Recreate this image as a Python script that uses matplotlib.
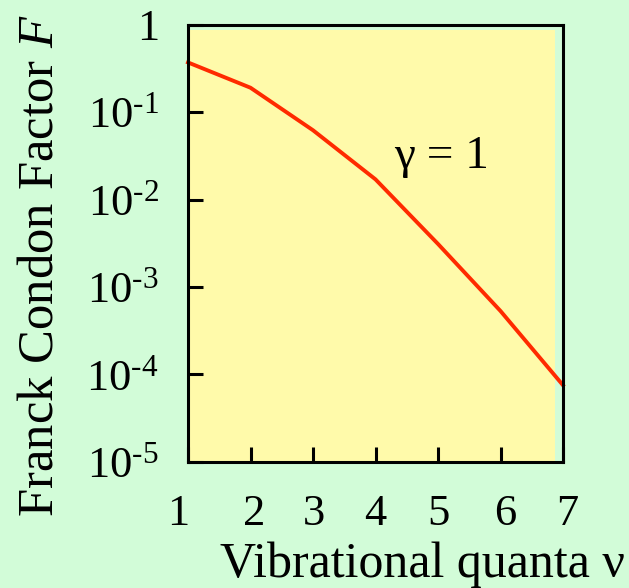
import matplotlib
matplotlib.use("Agg")
import matplotlib.pyplot as plt
from matplotlib.patches import Rectangle
from matplotlib.transforms import ScaledTranslation

# data
quanta = [1, 2, 3, 4, 5, 6, 7]
franck_condon = [0.37, 0.19, 0.062, 0.017, 0.0031, 0.00053, 0.000075]
xtick_labels = ["1", "2", "3", "4", "5", "6", "7"]
ytick_values = [1e-5, 1e-4, 1e-3, 1e-2, 1e-1, 1]
ytick_labels = ["10$^{\\text{-}5}$", "10$^{\\text{-}4}$", "10$^{\\text{-}3}$",
                "10$^{\\text{-}2}$", "10$^{\\text{-}1}$", "1"]
annotation = "γ = 1"

plt.rcParams['font.family'] = ['Liberation Serif', 'DejaVu Serif']
plt.rcParams['mathtext.fontset'] = 'custom'
plt.rcParams['mathtext.rm'] = 'Liberation Serif'
plt.rcParams['mathtext.it'] = 'Liberation Serif:italic'

BG = '#d2fcd8'
YEL = '#fffaaa'
RED = '#ff2a00'
FS = 32

fig = plt.figure(figsize=(6.29, 5.88), dpi=100, facecolor=BG)
ax = fig.add_axes([188/629, 1-461.7/588, (563-188)/629, (461.7-24.7)/588])
ax.set_facecolor(BG)
ax.add_patch(Rectangle((0, 0), 0.979, 0.987, transform=ax.transAxes,
                       facecolor=YEL, edgecolor='none', zorder=0))

ax.plot(quanta, franck_condon, color=RED, lw=2.8, zorder=3, clip_on=False)
ax.set_yscale('log')
ax.set_xlim(1, 7)
ax.set_ylim(1e-5, 1)

for s in ax.spines.values():
    s.set_linewidth(2.2)
    s.set_zorder(4)

ax.set_xticks(quanta)
ax.set_xticklabels(xtick_labels)
ax.set_yticks(ytick_values)
ax.set_yticklabels(ytick_labels)
ax.yaxis.set_minor_locator(matplotlib.ticker.NullLocator())
ax.tick_params(axis='both', direction='in', length=11, width=2.2, labelsize=FS)
ax.tick_params(axis='x', pad=23)
ax.tick_params(axis='y', pad=21)

offs = [-10, 4, 1, 0, 0, 5, 4]
for lbl, dx in zip(ax.get_xticklabels(), offs):
    lbl.set_transform(lbl.get_transform() + ScaledTranslation(dx/100, 0, fig.dpi_scale_trans))

ax.text(5.06, 0.0229, annotation, fontsize=34, ha='center', va='baseline')

fig.text(625/629, 1-577/588, "Vibrational quanta ν", fontsize=36, ha='right', va='baseline')
fig.text(53/629, 1-266/588, "Franck Condon Factor $\\mathit{F}$", fontsize=36.5,
         rotation=90, rotation_mode='anchor', ha='center', va='baseline')

fig.savefig('out.png', dpi=100, facecolor=BG)
